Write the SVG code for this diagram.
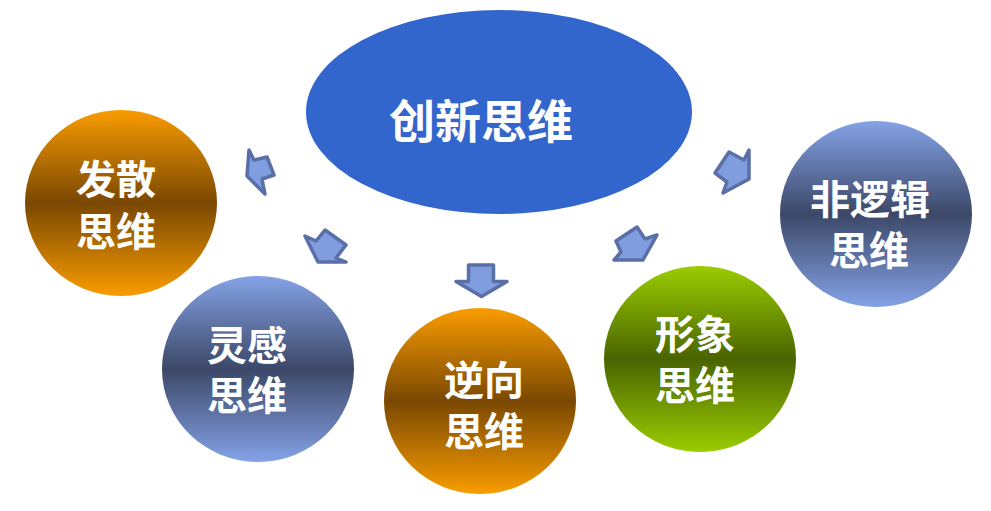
<svg xmlns="http://www.w3.org/2000/svg" width="991" height="511" viewBox="0 0 991 511">
<defs>
<linearGradient id="gOrange" x1="0" y1="0" x2="0" y2="1">
<stop offset="0" stop-color="#F99C00"/>
<stop offset="0.5" stop-color="#7A4802"/>
<stop offset="1" stop-color="#F99C00"/>
</linearGradient>
<linearGradient id="gBlue" x1="0" y1="0" x2="0" y2="1">
<stop offset="0" stop-color="#84A2E6"/>
<stop offset="0.5" stop-color="#3C4868"/>
<stop offset="1" stop-color="#84A2E6"/>
</linearGradient>
<linearGradient id="gGreen" x1="0" y1="0" x2="0" y2="1">
<stop offset="0" stop-color="#9ACD00"/>
<stop offset="0.5" stop-color="#4A6400"/>
<stop offset="1" stop-color="#9ACD00"/>
</linearGradient>
<style>
.lbl{font-family:"Noto Sans CJK SC","Noto Sans CJK TC",sans-serif;font-weight:700;fill:#FFFFFF;text-anchor:middle;font-size:40px}
.main{font-size:46px}
.arr{fill:#809DE0;stroke:#5A6FA6;stroke-width:3.5;stroke-linejoin:round}
</style>
</defs>
<rect width="991" height="511" fill="#FFFFFF"/>
<g id="connectors">
<polygon class="arr" points="249,150 254,160 267,157 274,175 262,179 265,194 247,176"/>
<polygon class="arr" points="305,236 316,241 325,230 346,245 336,258 346,262 318,262"/>
<polygon class="arr" points="468.5,265 493.5,265 493.5,281.5 507,281.5 481.5,296.5 456,281.5 468.5,281.5"/>
<polygon class="arr" points="637,227 645,239 657,235 643,260 614,260 621,252 616,241"/>
<polygon class="arr" points="729,152 744,160 749,150 749,179 723,193 727,182 715,173"/>
</g>
<g id="center">
<ellipse cx="499" cy="112" rx="193" ry="102" fill="#3366CC"/>
<text class="lbl main" x="481" y="138">创新思维</text>
</g>
<g id="fasan">
<ellipse cx="121" cy="203" rx="96" ry="93" fill="url(#gOrange)"/>
<text class="lbl" x="116" y="194">发散</text>
<text class="lbl" x="116" y="246">思维</text>
</g>
<g id="linggan">
<ellipse cx="258" cy="369" rx="96" ry="93" fill="url(#gBlue)"/>
<text class="lbl" x="247" y="360">灵感</text>
<text class="lbl" x="247" y="410">思维</text>
</g>
<g id="nixiang">
<ellipse cx="480" cy="401" rx="96" ry="93" fill="url(#gOrange)"/>
<text class="lbl" x="484" y="395">逆向</text>
<text class="lbl" x="484" y="446">思维</text>
</g>
<g id="xingxiang">
<ellipse cx="700" cy="359" rx="96" ry="93" fill="url(#gGreen)"/>
<text class="lbl" x="695" y="349">形象</text>
<text class="lbl" x="695" y="400">思维</text>
</g>
<g id="feiluoji">
<ellipse cx="876" cy="214" rx="96" ry="93" fill="url(#gBlue)"/>
<text class="lbl" x="870" y="214">非逻辑</text>
<text class="lbl" x="869" y="265">思维</text>
</g>
</svg>
